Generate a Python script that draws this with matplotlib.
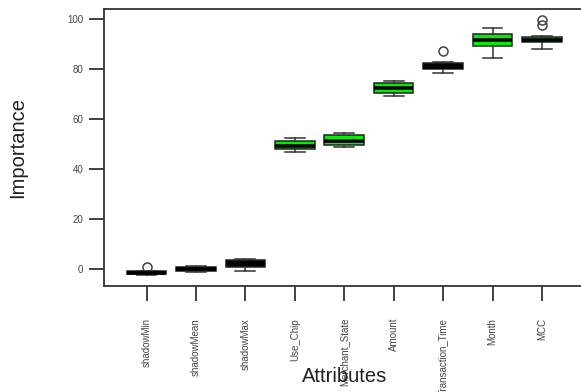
import matplotlib.pyplot as plt

# Boruta importance summary per attribute (whisker low, q1, median, q3, whisker high)
attributes = ["shadowMin", "shadowMean", "shadowMax", "Use_Chip", "Merchant_State",
              "Amount", "Transaction_Time", "Month", "MCC"]
whislo = [-2.5, -1.2, -0.7, 46.8, 49.0, 69.2, 78.5, 84.3, 87.9]
q1 = [-2.1, -0.9, 1.0, 48.0, 49.6, 70.4, 80.0, 89.2, 90.7]
med = [-1.5, 0.0, 2.4, 49.2, 51.3, 72.3, 81.0, 91.8, 91.6]
q3 = [-0.9, 0.8, 3.6, 51.2, 53.8, 74.6, 82.4, 94.0, 93.0]
whishi = [-0.6, 1.4, 4.1, 52.4, 54.5, 75.3, 82.8, 96.5, 93.2]
fliers = [[0.8], [], [], [], [], [], [87.3], [], [97.6, 99.6]]
fill = ["black", "black", "black", "#00ee00", "#00ee00",
        "#00ee00", "black", "#00ee00", "#00ee00"]

stats = []
for i, name in enumerate(attributes):
    stats.append(dict(label=name, whislo=whislo[i], q1=q1[i], med=med[i],
                      q3=q3[i], whishi=whishi[i], fliers=fliers[i]))

plt.rcParams["font.family"] = ["Liberation Sans", "DejaVu Sans"]

fig = plt.figure(figsize=(5.81, 3.92), dpi=100)
ax = fig.add_axes([104 / 581, 106 / 392, 480.5 / 581, 277 / 392])

pos = list(range(1, len(attributes) + 1))
bp = ax.bxp(stats, positions=pos, widths=0.8, patch_artist=True,
            boxprops=dict(edgecolor="#222222", linewidth=1.1),
            medianprops=dict(color="black", linewidth=2.6, solid_capstyle="butt"),
            whiskerprops=dict(color="#333333", linewidth=1.1),
            capprops=dict(color="#333333", linewidth=1.1),
            capwidths=0.4,
            flierprops=dict(marker="o", markersize=6.5, markerfacecolor="none",
                            markeredgecolor="#444444", markeredgewidth=1.1))
for patch, c in zip(bp["boxes"], fill):
    patch.set_facecolor(c)

ax.set_xlim(0.14, 9.86)
ax.set_ylim(-6.8, 104)
ax.set_yticks([0, 20, 40, 60, 80, 100])
ax.set_xticks(pos)
ax.set_xticklabels(attributes, rotation=90, va="top")
ax.tick_params(axis="both", length=11, width=1.3, color="#333333",
               labelsize=7, labelcolor="#444444")
ax.tick_params(axis="x", pad=12)
ax.tick_params(axis="y", pad=4)

for s in ax.spines.values():
    s.set_linewidth(1.3)
    s.set_color("#333333")

fig.text(18 / 581, 1 - 147 / 392, "Importance", rotation=90, fontsize=14.5,
         ha="center", va="center", color="#222222")
fig.text(345 / 581, 1 - 376 / 392, "Attributes", fontsize=14.5,
         ha="center", va="center", color="#222222")

fig.savefig("out.png", dpi=100)
